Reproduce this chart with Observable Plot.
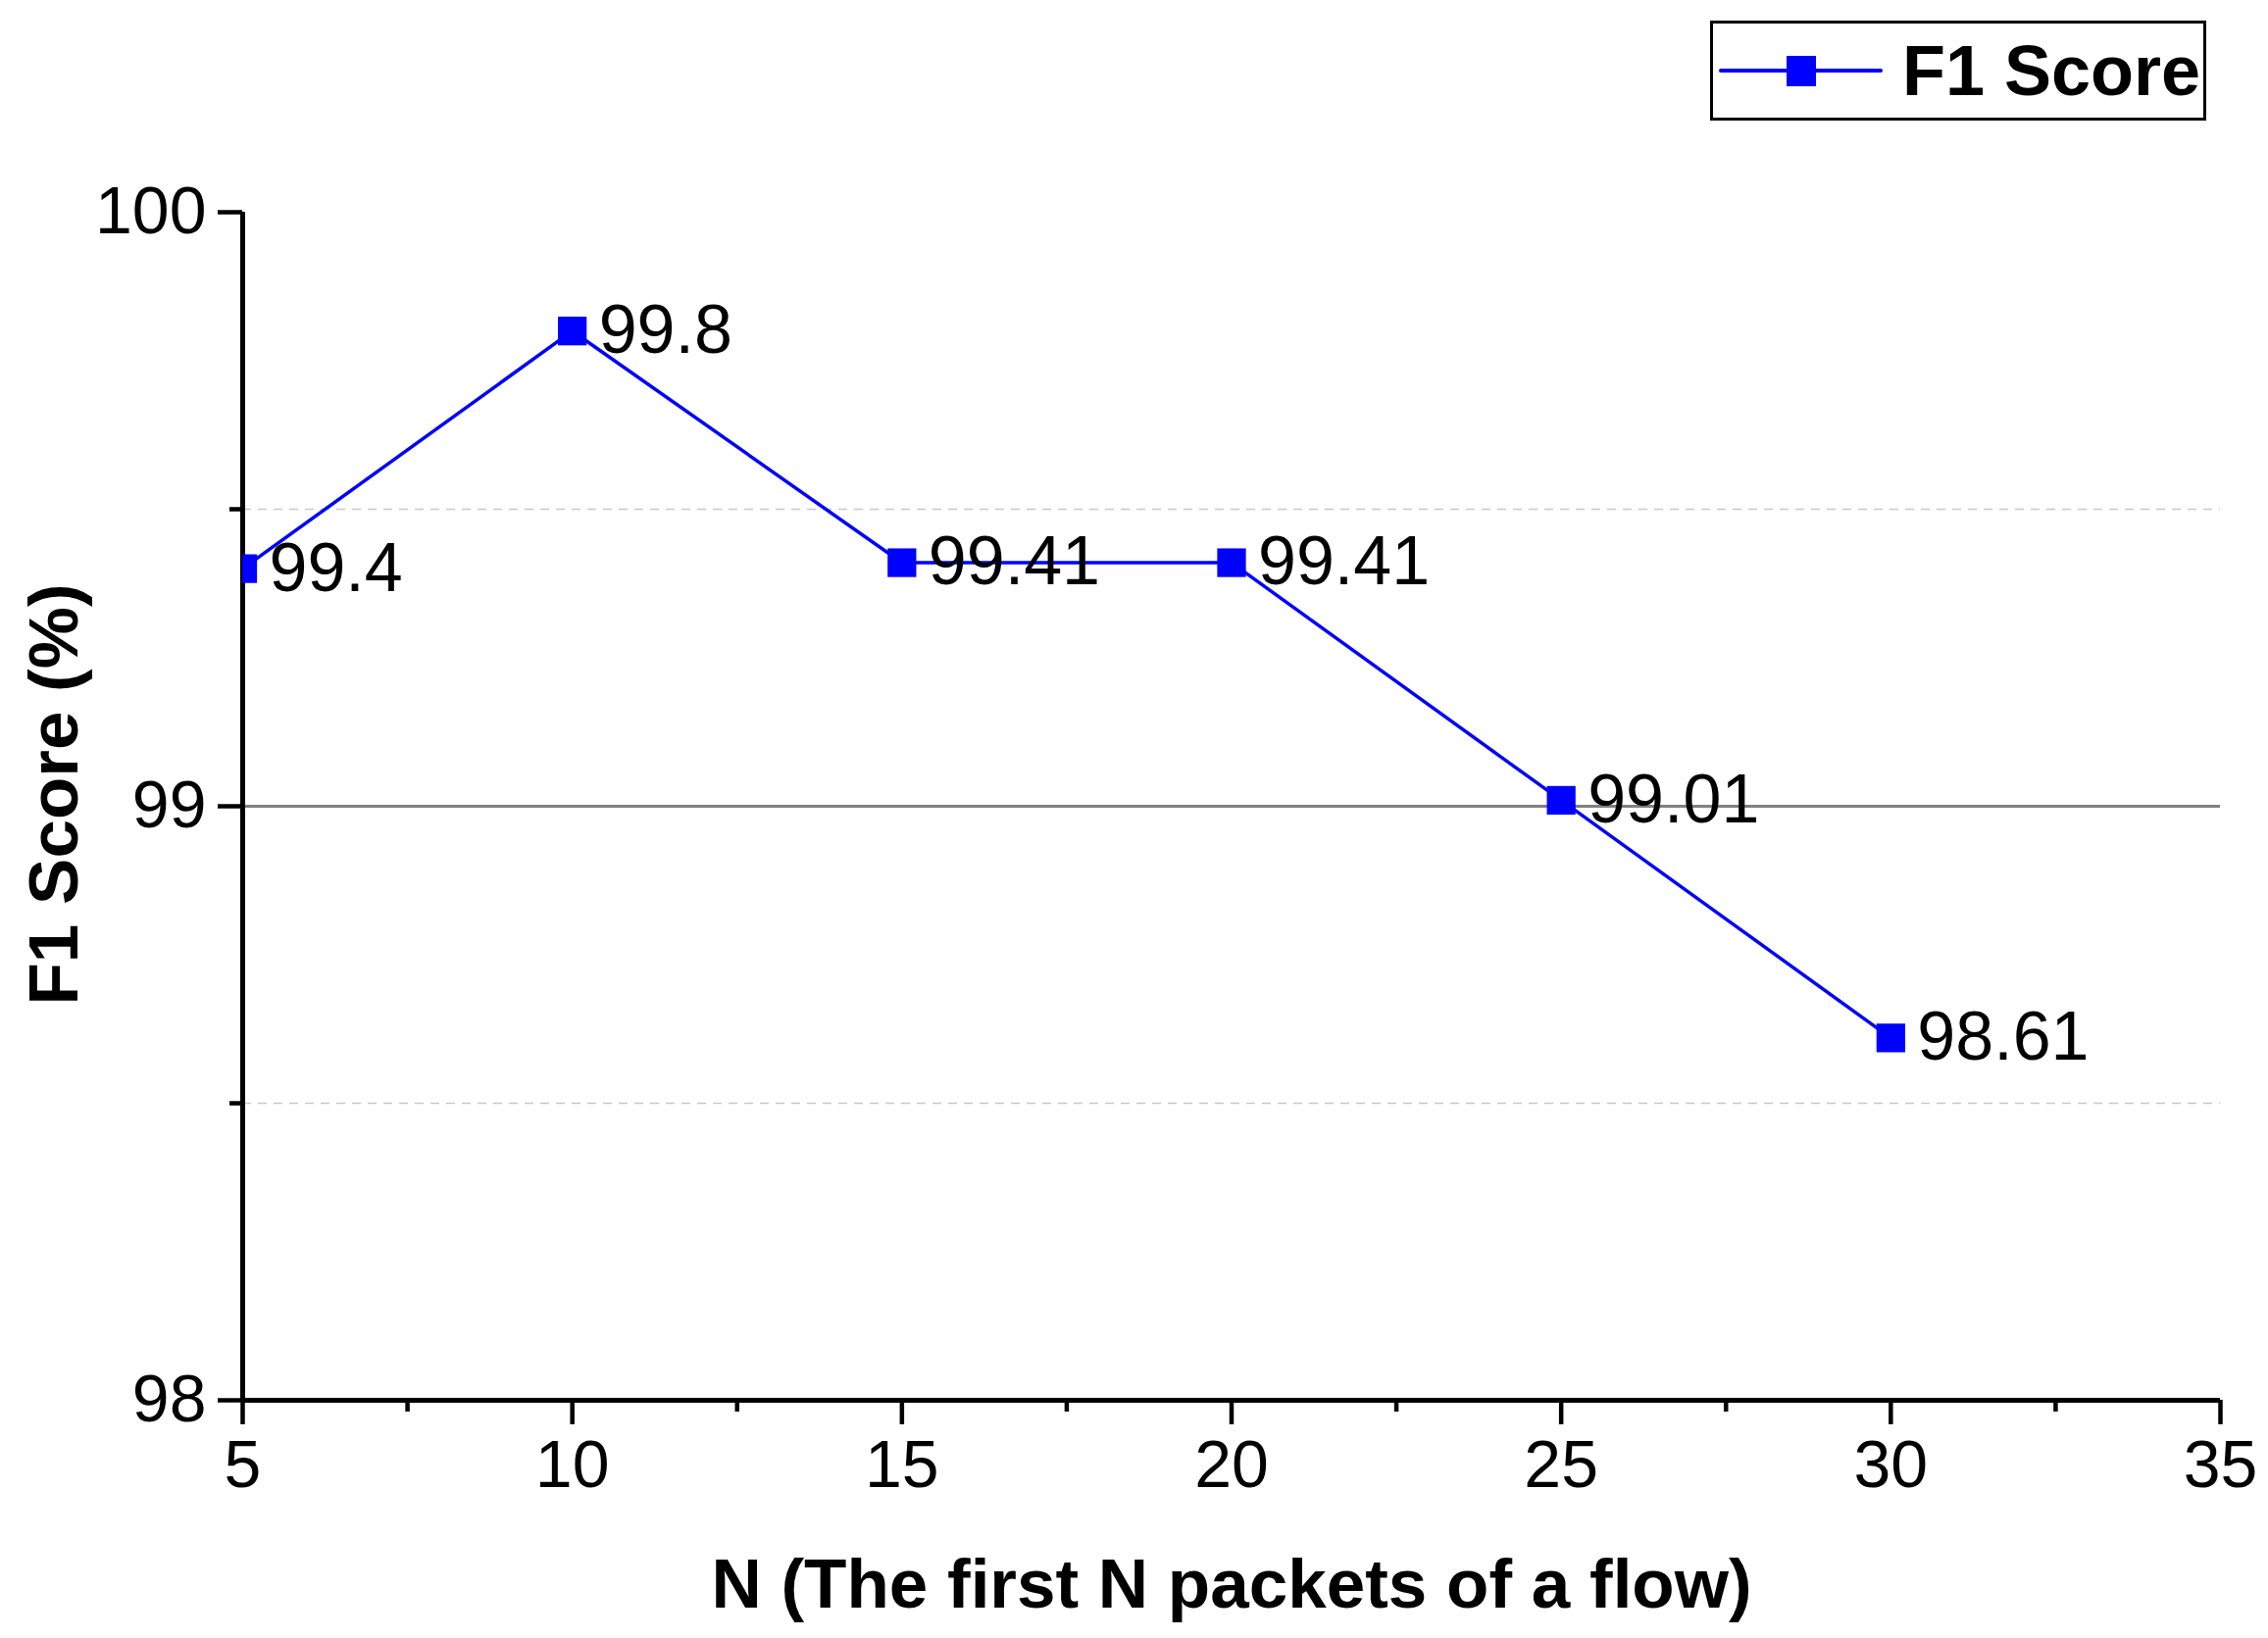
<!DOCTYPE html>
<html>
<head>
<meta charset="utf-8">
<script src="https://cdn.jsdelivr.net/npm/d3@7"></script>
<script src="https://cdn.jsdelivr.net/npm/@observablehq/plot@0.6"></script>
<style>
  html, body { margin: 0; padding: 0; background: #fff; }
  body { width: 2313px; height: 1671px; overflow: hidden; font-family: "Liberation Sans", Arial, sans-serif; }
  #top { position: relative; width: 2313px; height: 130px; }
  #legend { position: absolute; left: 1744px; top: 21px; width: 500px; height: 96px; border: 3px solid #000; background: #fff; }
  #legend svg { position: absolute; left: 0; top: 0; }
  #chart svg { display: block; }
</style>
</head>
<body>
<div id="top">
  <div id="legend">
    <svg width="500" height="96">
      <line x1="8" x2="171" y1="48" y2="48" stroke="#0000ff" stroke-width="4" stroke-linecap="round"></line>
      <rect x="75" y="33" width="30" height="31" fill="#0000ff"></rect>
      <text x="193" y="73" font-family="Liberation Sans, Arial, sans-serif" font-weight="bold" font-size="72" fill="#000">F1 Score</text>
    </svg>
  </div>
</div>
<div id="chart"></div>
<script>
// ---- data ----
const nValues = [5, 10, 15, 20, 25, 30];
const f1Values = [99.4, 99.8, 99.41, 99.41, 99.01, 98.61];
const xTicks = [5, 10, 15, 20, 25, 30, 35];
const xMinorTicks = [7.5, 12.5, 17.5, 22.5, 27.5, 32.5];
const yTicks = [98, 99, 100];
const yMinorTicks = [98.5, 99.5];
const yRefLine = [99];
const yDashedGrid = [98.5, 99.5];
const xTitle = "N (The first N packets of a flow)";
const yTitle = "F1 Score (%)";
const seriesName = "F1 Score";

const data = nValues.map((n, i) => ({n, f1: f1Values[i]}));

const fontFamily = "Liberation Sans, Arial, sans-serif";

const chart = Plot.plot({
  width: 2313,
  height: 1541,
  marginLeft: 247,
  marginRight: 49,
  marginTop: 86,
  marginBottom: 243,
  style: {background: "#fff", fontFamily, color: "#000", overflow: "visible"},
  x: {domain: [5, 35]},
  y: {domain: [98, 100]},
  marks: [
    Plot.ruleY(yDashedGrid, {stroke: "#c8c8c8", strokeWidth: 1.5, strokeDasharray: "9,7"}),
    Plot.ruleY(yRefLine, {stroke: "#808080", strokeWidth: 3}),
    Plot.axisY({ticks: yMinorTicks, tickSize: 13, strokeWidth: 4.5, tickFormat: () => "", label: null}),
    Plot.axisY({ticks: yTicks, tickSize: 25, tickPadding: 12, strokeWidth: 4.5, fontSize: 68, tickFormat: d => String(d), label: null}),
    Plot.axisX({ticks: xMinorTicks, tickSize: 12, strokeWidth: 4.5, tickFormat: () => "", label: null}),
    Plot.axisX({ticks: xTicks, tickSize: 25, tickPadding: 15, strokeWidth: 4.5, fontSize: 68, tickFormat: d => String(d), label: null}),
    Plot.ruleX([5], {stroke: "#000", strokeWidth: 5}),
    Plot.ruleY([98], {stroke: "#000", strokeWidth: 5}),
    Plot.line(data, {x: "n", y: "f1", stroke: "#0000ff", strokeWidth: 3.5, clip: "frame"}),
    Plot.dot(data, {x: "n", y: "f1", symbol: "square", r: 16.5, fill: "#0000ff", stroke: null, clip: "frame"}),
    Plot.text(data, {x: "n", y: "f1", text: d => String(d.f1), dx: 27, textAnchor: "start", lineAnchor: "middle", fontSize: 70, fill: "#000"}),
    Plot.text([xTitle], {frameAnchor: "bottom", dy: 189, textAnchor: "middle", lineAnchor: "middle", fontSize: 71, fontWeight: "bold", fill: "#000"}),
    Plot.text([yTitle], {frameAnchor: "left", dx: -191, dy: -12, rotate: -90, textAnchor: "middle", lineAnchor: "middle", fontSize: 71, fontWeight: "bold", fill: "#000"})
  ]
});
document.getElementById("chart").appendChild(chart);
</script>
</body>
</html>
